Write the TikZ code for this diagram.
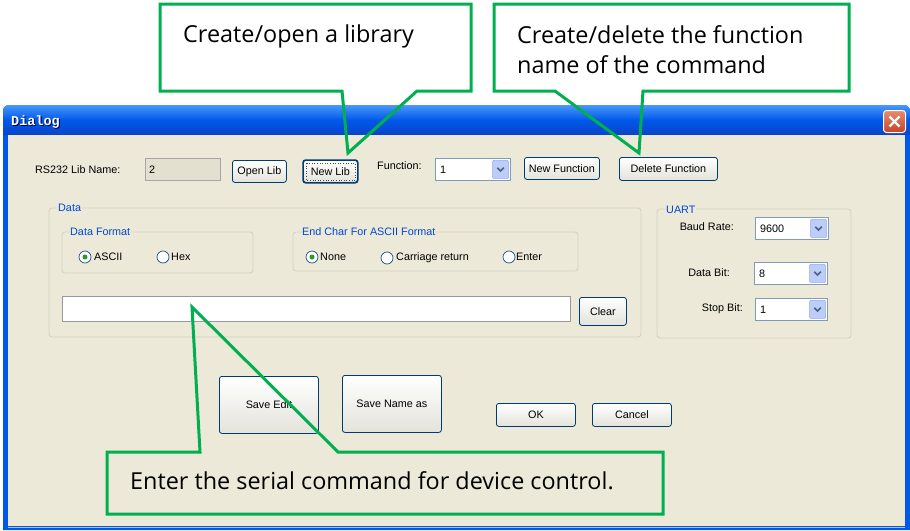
\documentclass[tikz,border=0pt]{standalone}
\usepackage{fontspec}
\setmainfont{Liberation Sans}
\newfontfamily\calloutfont{Open Sans}
\newfontfamily\titlefont{Liberation Mono}
\definecolor{dlgbg}{HTML}{ECE9D8}
\definecolor{xpblue}{HTML}{0058EA}
\definecolor{xpbluetop}{HTML}{4A98FA}
\definecolor{xpbluebot}{HTML}{0A44C8}
\definecolor{grpline}{HTML}{D0D0BF}
\definecolor{grplabel}{HTML}{0046D5}
\definecolor{btnborder}{HTML}{003C74}
\definecolor{btnbot}{HTML}{E3E2DA}
\definecolor{callgreen}{HTML}{00B050}
\definecolor{fieldborder}{HTML}{7F9DB9}
\definecolor{ddblue}{HTML}{BCCDF7}
\definecolor{ddarrow}{HTML}{4D6185}
\definecolor{radioborder}{HTML}{1C5180}
\definecolor{radiodot}{HTML}{2A9A2A}
\definecolor{closetop}{HTML}{E98A70}
\definecolor{closebot}{HTML}{C84424}
\tikzset{
  ui/.style={font=\fontsize{10.8}{12}\selectfont, inner sep=0pt},
  btn/.style={draw=btnborder, rounded corners=2.5pt, top color=white, bottom color=btnbot, line width=0.8pt, ui, anchor=north west},
  field/.style={draw=fieldborder, fill=white, line width=0.8pt, inner sep=0pt, anchor=north west},
  grp/.style={draw=grpline, rounded corners=3pt, line width=0.8pt},
  grplbl/.style={fill=dlgbg, text=grplabel, ui, inner xsep=1pt, inner ysep=1pt, anchor=west},
  radiobox/.style={circle, draw=radioborder, fill=white, minimum size=12pt, inner sep=0pt, line width=0.7pt},
  radiosel/.style={circle, fill=radiodot, minimum size=5pt, inner sep=0pt},
  callout/.style={draw=callgreen, line width=3pt, line join=miter},
  calltext/.style={font=\calloutfont\fontsize{23.4}{30}\selectfont, anchor=west, inner sep=0pt},
}
\newcommand\uibtn[6]{%
  \node[btn, minimum width=#4-#2, minimum height=#5-#3] (#1) at (#2,#3) {#6};}
\newcommand\uicombo[6]{%
  \node[field, minimum width=#4-#2, minimum height=#5-#3] (#1) at (#2,#3) {};
  \node[ui, anchor=west] (#1t) at ([shift={(5,0)}]#1.west) {#6};
  \node[fill=ddblue, draw=ddblue!80!blue, rounded corners=1pt, minimum width=16pt, minimum height=#5-#3-4, inner sep=0pt, anchor=east] (#1b) at ([shift={(-2,0)}]#1.east) {};
  \draw[ddarrow, line width=1.6pt] ([shift={(-3.2,-1.6)}]#1b.center) -- ([shift={(0,1.6)}]#1b.center) -- ([shift={(3.2,-1.6)}]#1b.center);}
\begin{document}
\begin{tikzpicture}[x=1pt,y=-1pt]
\useasboundingbox (0,0) rectangle (910,530);
\fill[white] (0,0) rectangle (910,530);
% window frame
\fill[xpblue] (3,530) [rounded corners=6pt] -- (3,105) -- (910,105) [sharp corners] -- (910,530) -- cycle;
\shade[top color=xpbluetop, bottom color=xpbluebot, middle color=xpblue] (3,106) [rounded corners=6pt] -- (3,105) -- (910,105) [sharp corners] -- (910,135) -- (3,135) -- cycle;
\fill[dlgbg] (8,135) rectangle (905,526);
\draw[fieldborder!60!white, line width=1pt] (8,527) -- (905,527);
% title
\node[font=\titlefont\bfseries\fontsize{13.5}{14}\selectfont, text=black!70!blue, anchor=west, inner sep=0pt] (titleshadow) at (12,123) {Dialog};
\node[font=\titlefont\bfseries\fontsize{13.5}{14}\selectfont, text=white, anchor=west, inner sep=0pt] (title) at (11,122) {Dialog};
\node[draw=white, line width=1pt, rounded corners=3pt, top color=closetop, bottom color=closebot, minimum width=22pt, minimum height=22pt, anchor=north west] (close) at (883,110) {};
\draw[white, line width=2.2pt] ([shift={(-5,-5)}]close.center) -- ([shift={(5,5)}]close.center);
\draw[white, line width=2.2pt] ([shift={(-5,5)}]close.center) -- ([shift={(5,-5)}]close.center);
% row 1
\node[ui, anchor=west] (rslbl) at (35,170) {RS232 Lib Name:};
\node[draw=black!35, fill=black!4!dlgbg, line width=0.8pt, inner sep=0pt, anchor=north west, minimum width=75pt, minimum height=22pt] (libname) at (145,158) {};
\node[ui, anchor=west] (libnamet) at ([shift={(4,0)}]libname.west) {2};
\uibtn{openlib}{232}{160}{286}{182}{Open Lib}
\uibtn{newlib}{303}{160}{357}{182}{New Lib}
\draw[btnborder, line width=1.4pt, rounded corners=2.5pt] (newlib.north west) rectangle (newlib.south east);
\draw[black!70, dotted, line width=0.6pt] ([shift={(3,3)}]newlib.north west) rectangle ([shift={(-3,-3)}]newlib.south east);
\node[ui, anchor=west] (funclbl) at (377,166) {Function:};
\uicombo{func}{435}{158}{510}{180}{1}
\uibtn{newfunc}{524}{157}{599}{179}{New Function}
\uibtn{delfunc}{619}{157}{717}{180}{Delete Function}
% Data group
\draw[grp] (49,208) rectangle (641,337);
\node[grplbl] (datalbl) at (57,208) {Data};
\draw[grp] (62,232) rectangle (253,273);
\node[grplbl] (dflbl) at (69,232) {Data Format};
\node[radiobox] (rascii) at (85,257) {};
\node[radiosel] (rasciidot) at (rascii.center) {};
\node[ui, anchor=west] (tascii) at (94,257) {ASCII};
\node[radiobox] (rhex) at (163,257) {};
\node[ui, anchor=west] (thex) at (171,257) {Hex};
\draw[grp] (293,232) rectangle (578,271);
\node[grplbl] (eclbl) at (301,232) {End Char For ASCII Format};
\node[radiobox] (rnone) at (312,257) {};
\node[radiosel] (rnonedot) at (rnone.center) {};
\node[ui, anchor=west] (tnone) at (320,257) {None};
\node[radiobox] (rcr) at (387,258) {};
\node[ui, anchor=west] (tcr) at (396,258) {Carriage return};
\node[radiobox] (renter) at (509,257) {};
\node[ui, anchor=west] (tenter) at (516,257) {Enter};
\node[field, draw=black!40, minimum width=508pt, minimum height=25pt] (cmdfield) at (62,296) {};
\uibtn{clear}{579}{297}{626}{325}{Clear}
% UART group
\draw[grp] (657,209) rectangle (851,338);
\node[grplbl] (uartlbl) at (665,210) {UART};
\node[ui, anchor=east] (baudlbl) at (734,227) {Baud Rate:};
\uicombo{baud}{755}{217}{828}{239}{9600}
\node[ui, anchor=east] (dblbl) at (730,273) {Data Bit:};
\uicombo{databit}{754}{262}{827}{284}{8}
\node[ui, anchor=east] (sblbl) at (743,309) {Stop Bit:};
\uicombo{stopbit}{755}{298}{827}{320}{1}
% bottom buttons
\uibtn{saveedit}{219}{376}{318}{433}{Save Edit}
\uibtn{savename}{342}{375}{441}{432}{Save Name as}
\uibtn{ok}{496}{403}{575}{426}{OK}
\uibtn{cancel}{592}{403}{671}{426}{Cancel}
% callout 1
\coordinate (tip1) at (348,153);
\draw[callout] (160,4) -- (471,4) -- (471,91) -- (417,91) -- (tip1) -- (342,91) -- (160,91) -- cycle;
\node[calltext] (c1) at (183,36) {Create/open a library};
% callout 2
\coordinate (tip2) at (639,153);
\draw[callout] (494,4) -- (849,4) -- (849,91) -- (643,91) -- (tip2) -- (555,91) -- (494,91) -- cycle;
\node[calltext] (c2a) at (517,35) {Create/delete the function};
\node[calltext] (c2b) at (517,65) {name of the command};
% callout 3
\coordinate (tip3) at (192,307);
\draw[callout] (107,452) -- (200,452) -- (tip3) -- (338,452) -- (663,452) -- (663,514) -- (107,514) -- cycle;
\node[calltext] (c3) at (130,481) {Enter the serial command for device control.};
\end{tikzpicture}
\end{document}
